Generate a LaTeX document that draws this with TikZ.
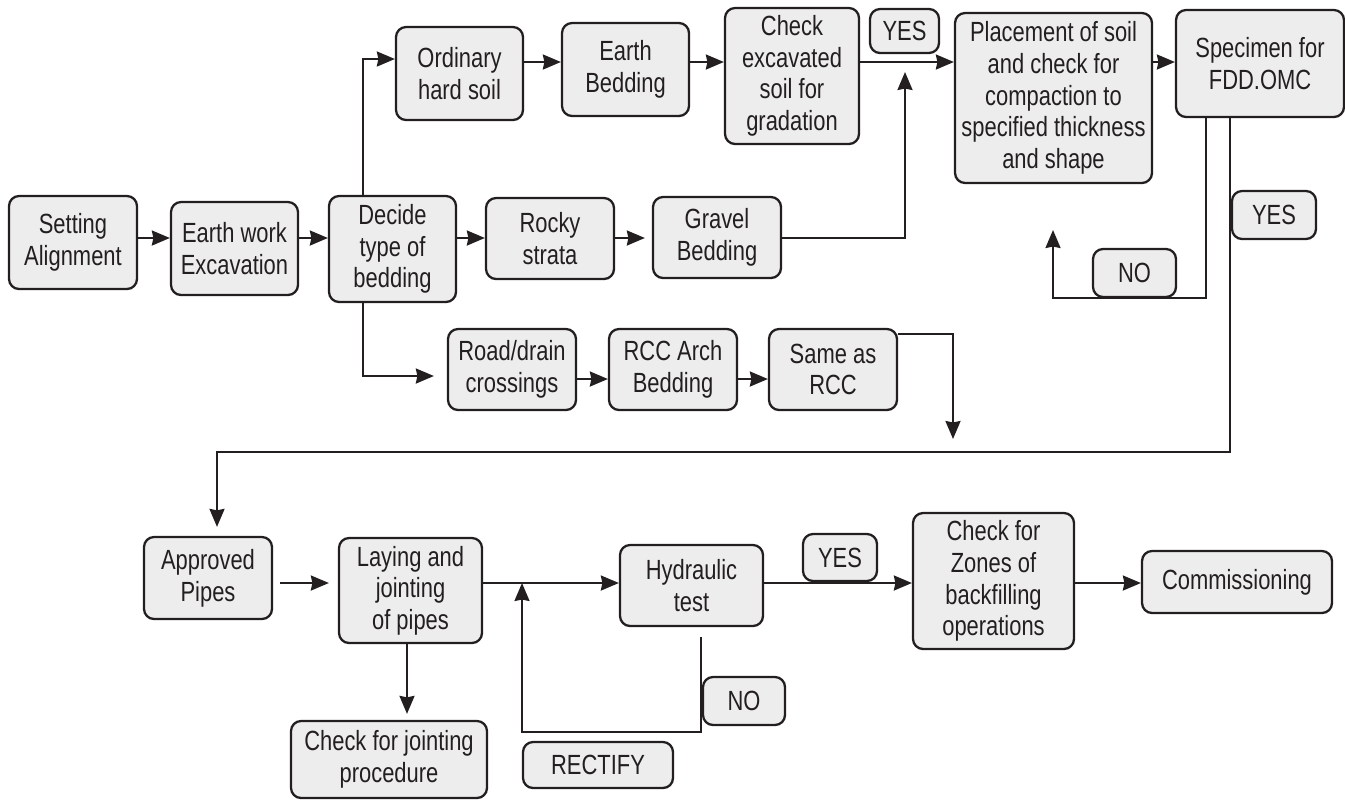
\documentclass[tikz,border=0pt]{standalone}
\usepackage{fontspec}
\setmainfont{Liberation Sans}[FakeStretch=0.79]
\usepackage{tikz}
\usetikzlibrary{arrows.meta}
\definecolor{linec}{HTML}{231F20}
\definecolor{boxc}{HTML}{EDEDED}
\tikzset{
  box/.style 2 args={draw=linec, fill=boxc, rounded corners=0.2cm, line width=1.3pt,
    align=center, inner sep=0pt, minimum width=#1cm, minimum height=#2cm,
    font=\fontsize{15.8}{18}\selectfont, text=linec},
  arr/.style={-{Stealth[length=0.36cm,width=0.3cm,inset=0.03cm]}, line width=1.2pt, draw=linec},
  wire/.style={line width=1.2pt, draw=linec}
}

\begin{document}
\begin{tikzpicture}[x=0.02cm,y=-0.02cm]
  \useasboundingbox (0,0) rectangle (1345,799);
  % helper rows and columns
  \coordinate (rowO) at(0,59);
  \coordinate (rowA) at(0,62);
  \coordinate (rowB) at(0,238);
  \coordinate (rowS) at(0,334);
  \coordinate (rowC) at(0,376);
  \coordinate (rowR) at(0,379);
  \coordinate (rowD) at(0,583);
  \coordinate (rowE) at(0,732);
  \coordinate (colA) at(363,0);
  \coordinate (colN) at(1206,0);
  \coordinate (colY) at(1230,0);
  \coordinate (colH) at(701,0);
  \coordinate (colR) at(522,0);
  \coordinate (colP) at(407,0);
  \coordinate (up1) at(905,72);
  \coordinate (nob) at(1053,298);
  \coordinate (noT) at(1053,230);
  \coordinate (colL) at(217,452);
  \coordinate (dn1) at(953,439);
  % first row
  \node[box={2.56}{1.86}] at(73,242.5)(set){Setting\\Alignment};
  \node[box={2.54}{1.86}] at(234.5,248.5)(exc){Earth work\\Excavation};
  \node[box={2.54}{2.12}] at(392.5,249)(dec){Decide\\type of\\bedding};
  % ordinary soil branch
  \node[box={2.54}{1.86}] at(459.5,73.5)(ord){Ordinary\\hard soil};
  \node[box={2.54}{1.86}] at(625.5,69.5)(ebed){Earth\\Bedding};
  \node[box={2.68}{2.72}] at(792,76)(chk){Check\\excavated\\soil for\\gradation};
  \node[box={1.38}{0.88}] at(904.5,31)(yes1){YES};
  \node[box={3.94}{3.40}] at(1053.5,98)(plc){Placement of soil\\and check for\\compaction to\\specified thickness\\and shape};
  \node[box={3.36}{2.14}] at(1260,63.5)(spc){Specimen for\\FDD.OMC};
  \node[box={1.66}{0.96}] at(1134.5,273)(no1){NO};
  \node[box={1.68}{0.96}] at(1274,215)(yes2){YES};
  % rocky branch
  \node[box={2.56}{1.62}] at(550,238.5)(rock){Rocky\\strata};
  \node[box={2.56}{1.62}] at(717,237.5)(grav){Gravel\\Bedding};
  % crossings branch
  \node[box={2.56}{1.62}] at(512,369.5)(road){Road/drain\\crossings};
  \node[box={2.56}{1.62}] at(673,369.5)(rcc){RCC Arch\\Bedding};
  \node[box={2.56}{1.62}] at(833,369.5)(same){Same as\\RCC};
  % pipes row
  \node[box={2.56}{1.64}] at(208,578)(app){Approved\\Pipes};
  \node[box={2.86}{2.10}] at(410.5,590.5)(lay){Laying and\\jointing\\of pipes};
  \node[box={3.92}{1.54}] at(389,759.5)(jnt){Check for jointing\\procedure};
  \node[box={3.00}{0.92}] at(598,765)(rect){RECTIFY};
  \node[box={2.86}{1.62}] at(691.5,585.5)(hyd){Hydraulic\\test};
  \node[box={1.64}{0.96}] at(744,701)(no2){NO};
  \node[box={1.48}{0.94}] at(840,557.5)(yes3){YES};
  \node[box={3.22}{2.72}] at(993.5,581)(zone){Check for\\Zones of\\backfilling\\operations};
  \node[box={3.80}{1.24}] at(1237,582)(com){Commissioning};
  % arrows first row
  \draw[arr] (set.east|-rowB) -- (exc.west|-rowB);
  \draw[arr] (exc.east|-rowB) -- (dec.west|-rowB);
  \draw[arr] (dec.east|-rowB) -- (rock.west|-rowB);
  \draw[arr,shorten >=0.14cm] (rock.east|-rowB) -- (grav.west|-rowB);
  \draw[arr] (dec.north-|colA) |- (ord.west|-rowO);
  \draw[arr] (ord.east|-rowA) -- (ebed.west|-rowA);
  \draw[arr] (ebed.east|-rowA) -- (chk.west|-rowA);
  \draw[arr] (chk.east|-rowA) -- (plc.west|-rowA);
  \draw[arr] (grav.east|-rowB) -| (up1);
  \draw[arr] (plc.east|-rowA) -- (spc.west|-rowA);
  % loops from specimen
  \draw[arr] (spc.south-|colN) |- (nob) -- (noT);
  \draw[arr,shorten >=0.18cm] (spc.south-|colY) |- (colL) -- (app.north-|colL);
  % crossings arrows
  \draw[arr,shorten >=0.26cm] (dec.south-|colA) |- (road.west|-rowC);
  \draw[arr] (road.east|-rowR) -- (rcc.west|-rowR);
  \draw[arr] (rcc.east|-rowR) -- (same.west|-rowR);
  \draw[arr] (same.east|-rowS) -| (dn1);
  % pipes row arrows
  \draw[arr,shorten <=0.14cm,shorten >=0.18cm] (app.east|-rowD) -- (lay.west|-rowD);
  \draw[arr] (lay.east|-rowD) -- (hyd.west|-rowD);
  \draw[arr,shorten >=0.12cm] (lay.south-|colP) -- (jnt.north-|colP);
  \draw[arr,shorten <=0.2cm] (hyd.south-|colH) |- (colR|-rowE) -- (colR|-rowD);
  \draw[arr] (hyd.east|-rowD) -- (zone.west|-rowD);
  \draw[arr] (zone.east|-rowD) -- (com.west|-rowD);
\end{tikzpicture}
\end{document}
